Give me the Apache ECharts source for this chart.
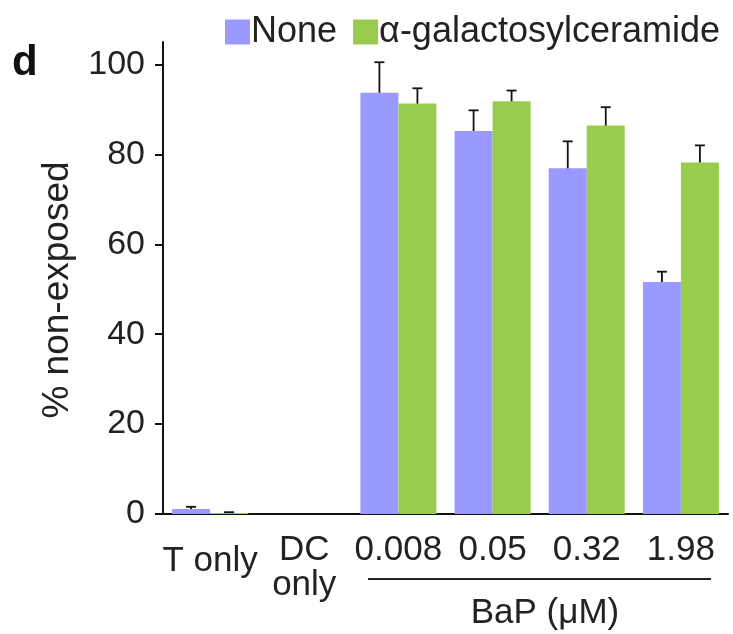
<!DOCTYPE html>
<html>
<head>
<meta charset="utf-8">
<script src="https://cdn.jsdelivr.net/npm/echarts@6/dist/echarts.min.js"></script>
<style>
  html, body { margin: 0; padding: 0; background: #fff; }
  #chartArea { width: 733px; height: 634px; }
</style>
</head>
<body>
<div id="chartArea"></div>
<script>
var categories = ['T only', 'DC\nonly', '0.008', '0.05', '0.32', '1.98'];
var noneValues = [1.1, 0, 93.7, 85.2, 76.9, 51.6];
var noneErrors = [0.5, 0, 6.8, 4.6, 6.0, 2.3];
var galValues = [0.2, 0, 91.3, 91.8, 86.4, 78.2];
var galErrors = [0.2, 0, 3.4, 2.4, 4.1, 3.8];
var yTicks = [0, 20, 40, 60, 80, 100];

var FONT = 'Liberation Sans, Arial, sans-serif';
var BAR_W = 38;

function errorData(vals, errs) {
    var out = [];
    for (var i = 0; i < vals.length; i++) {
        if (errs[i] > 0) out.push([i, vals[i], errs[i]]);
    }
    return out;
}

function errorSeries(name, vals, errs, side) {
    return {
        name: name,
        type: 'custom',
        data: errorData(vals, errs),
        z: 5,
        silent: true,
        renderItem: function (params, api) {
            var i = api.value(0);
            var top = api.coord([i, api.value(1) + api.value(2)]);
            var base = api.coord([i, api.value(1)]);
            var x = top[0] + side * BAR_W / 2;
            var style = { stroke: '#111', lineWidth: 1.8 };
            return {
                type: 'group',
                children: [
                    { type: 'line', shape: { x1: x, y1: base[1], x2: x, y2: top[1] }, style: style },
                    { type: 'line', shape: { x1: x - 5, y1: top[1], x2: x + 5, y2: top[1] }, style: style }
                ]
            };
        }
    };
}

var chartDom = document.getElementById('chartArea');
var myChart = echarts.init(chartDom);

var option = {
    animation: false,
    textStyle: { fontFamily: FONT },
    grid: { left: 163, right: 5, top: 42, bottom: 120 },
    legend: {
        left: 220,
        top: 9,
        itemWidth: 25,
        itemHeight: 25,
        itemGap: 16,
        icon: 'rect',
        textStyle: { fontSize: 36, color: '#222', fontFamily: FONT, padding: [0, 0, 0, -4] },
        data: ['None', 'α-galactosylceramide']
    },
    xAxis: {
        type: 'category',
        data: categories,
        axisLine: { lineStyle: { color: '#111', width: 2 } },
        axisTick: { show: false },
        axisLabel: {
            color: '#222',
            fontSize: 35,
            fontFamily: FONT,
            margin: 19,
            lineHeight: 35,
            interval: 0,
            formatter: function (v) {
                if (v === 'T only') return '{t|T only}';
                return v;
            },
            rich: {
                t: { fontSize: 35, fontFamily: FONT, color: '#222', padding: [22, 0, 0, 0] }
            }
        }
    },
    yAxis: {
        type: 'value',
        min: 0,
        max: 105,
        splitLine: { show: false },
        axisLine: { show: true, lineStyle: { color: '#111', width: 2 } },
        axisTick: { show: true, length: 8, customValues: yTicks, lineStyle: { color: '#111', width: 2 } },
        axisLabel: { color: '#222', fontSize: 34, fontFamily: FONT, margin: 18, customValues: yTicks }
    },
    graphic: [
        { type: 'text', left: 12, top: 42, style: { text: 'd', fontSize: 42, fontWeight: 'bold', fill: '#111', fontFamily: FONT } },
        {
            type: 'text', x: 58, y: 290, rotation: Math.PI / 2,
            style: { text: '% non-exposed', fontSize: 37, fill: '#222', fontFamily: FONT, align: 'center', verticalAlign: 'middle' }
        },
        { type: 'line', shape: { x1: 368, y1: 579, x2: 711, y2: 579 }, style: { stroke: '#222', lineWidth: 2 } },
        { type: 'text', x: 545, y: 613, style: { text: 'BaP (μM)', fontSize: 35, fill: '#222', fontFamily: FONT, align: 'center', verticalAlign: 'middle' } }
    ],
    series: [
        {
            name: 'None',
            type: 'bar',
            data: noneValues,
            barWidth: BAR_W,
            barGap: '0%',
            itemStyle: { color: '#9999ff' }
        },
        {
            name: 'α-galactosylceramide',
            type: 'bar',
            data: galValues,
            barWidth: BAR_W,
            barGap: '0%',
            itemStyle: { color: '#99cc4d' }
        },
        errorSeries('None', noneValues, noneErrors, -1),
        errorSeries('α-galactosylceramide', galValues, galErrors, 1)
    ]
};

option && myChart.setOption(option);
</script>
</body>
</html>
